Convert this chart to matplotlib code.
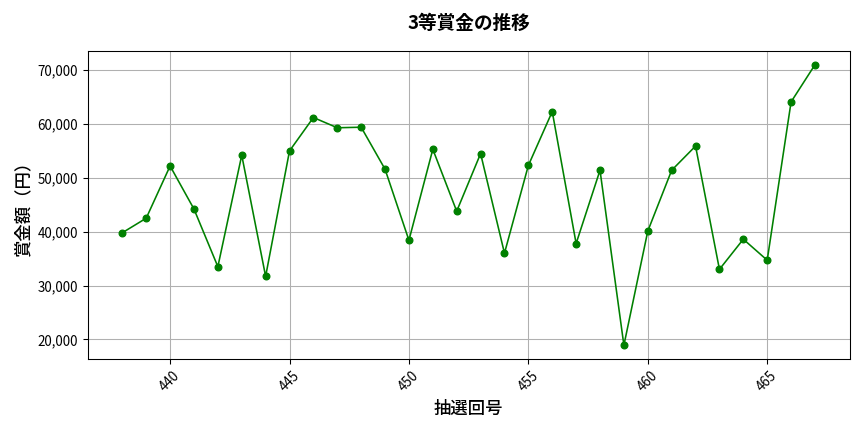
import matplotlib
matplotlib.use("Agg")
from matplotlib import pyplot as plt
from matplotlib.ticker import FuncFormatter

plt.rcParams["font.family"] = ["Noto Sans CJK JP", "DejaVu Sans"]

draws = list(range(438, 468))
prizes = [
    39800, 42500, 52200, 44200, 33500, 54200, 31700, 55000, 61200, 59300,
    59400, 51600, 38400, 55300, 43800, 54500, 36000, 52300, 62300, 37800,
    51400, 18900, 40100, 51400, 55900, 33000, 38600, 34700, 64100, 71000,
]

fig, ax = plt.subplots(figsize=(9, 4.5), dpi=96)
ax.plot(draws, prizes, color="green", marker="o", markersize=5, linewidth=1.2)
ax.set_title("3等賞金の推移", fontsize=14, fontweight="bold", pad=16)
ax.set_xlabel("抽選回号", fontsize=13, fontweight="medium")
ax.set_ylabel("賞金額（円）", fontsize=13, fontweight="medium")
ax.yaxis.set_major_formatter(FuncFormatter(lambda v, _: f"{int(v):,}"))
ax.tick_params(axis="x", rotation=45)
ax.grid(True, color="#b0b0b0", linewidth=0.8)
plt.tight_layout()
plt.savefig("out.png")
